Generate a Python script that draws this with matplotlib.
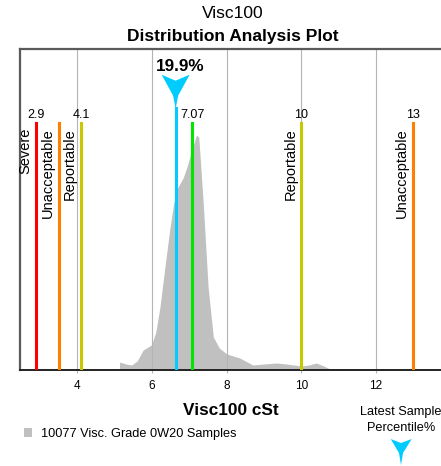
"""Distribution analysis plot for Visc100 with limit lines and latest-sample marker."""

import matplotlib

matplotlib.use("Agg")
import matplotlib.pyplot as plt  # noqa: E402
from matplotlib.patches import Polygon  # noqa: E402
from matplotlib.transforms import Affine2D, ScaledTranslation, blended_transform_factory  # noqa: E402

plt.rcParams["font.family"] = ["Liberation Sans", "DejaVu Sans"]

# sample distribution (relative density)
dist_x = [5.12, 5.13, 5.3, 5.45, 5.6, 5.76, 5.98, 6.1, 6.21, 6.35, 6.47, 6.57, 6.65,
          6.83, 6.95, 7.06, 7.19, 7.25, 7.31, 7.37, 7.5, 7.64, 7.8, 8.0, 8.35, 8.7,
          9.0, 9.33, 9.6, 10.0, 10.2, 10.4, 10.6, 10.77, 11.0, 12.0]
dist_y = [0, 8, 6, 5, 9, 20, 25, 38, 63, 105, 140, 165, 180,
          192, 205, 220, 235, 233, 200, 167, 83, 33, 22, 16, 12, 5,
          6, 7, 6, 4, 5, 7, 4, 1, 0.5, 0]

# limit lines
limit_values = [2.9, 3.5, 4.1, 10.0, 13.0]
limit_names = ["Severe", "Unacceptable", "Reportable", "Reportable", "Unacceptable"]
limit_labels = ["2.9", "", "4.1", "10", "13"]
limit_colors = ["#ff0000", "#ff8000", "#c8c800", "#c8c800", "#ff8000"]

mean_value = 7.07
mean_label = "7.07"
latest_value = 6.63
latest_pct = "19.9%"

sample_label = "10077 Visc. Grade 0W20 Samples"
x_ticks = [4, 6, 8, 10, 12]

W, H = 441, 466
fig = plt.figure(figsize=(W / 100, H / 100), dpi=100)
ax = fig.add_axes([20 / W, (H - 370) / H, (W - 20) / W, 321 / H])

ax.fill_between(dist_x, dist_y, color="#c0c0c0", lw=0, label=sample_label, zorder=1)
ax.set_xlim(2.459, 13.742)
ax.set_ylim(0, 321)
ax.set_yticks([])
ax.set_xticks(x_ticks)
ax.grid(axis="x", color="#b4b4b4", lw=0.8, zorder=0)
ax.tick_params(axis="x", length=2, color="#b4b4b4", labelsize=8.5, pad=5)
for side in ("top", "left"):
    ax.spines[side].set_color("#5a5a5a")
    ax.spines[side].set_linewidth(1.6)
ax.spines["bottom"].set_color("#222222")
ax.spines["bottom"].set_linewidth(1.4)
ax.spines["right"].set_visible(False)

line_top = 0.7695
for value, name, label, color in zip(limit_values, limit_names, limit_labels, limit_colors):
    ax.axvline(value, ymax=line_top, color=color, lw=2.2, zorder=3)
    if label:
        ax.annotate(label, (value, line_top), xycoords=("data", "axes fraction"),
                    xytext=(0, 2), textcoords="offset pixels",
                    ha="center", va="bottom", fontsize=9)
    ax.annotate(name, (value, 0.754), xycoords=("data", "axes fraction"),
                xytext=(-4, 0), textcoords="offset pixels",
                ha="right", va="top", rotation=90, fontsize=10.5)

ax.axvline(mean_value, ymax=line_top, color="#00e600", lw=2.2, zorder=3)
ax.annotate(mean_label, (mean_value, line_top), xycoords=("data", "axes fraction"),
            xytext=(0, 2), textcoords="offset pixels",
            ha="center", va="bottom", fontsize=9)

# latest sample line with dart marker
cyan = "#00ccff"
ax.axvline(latest_value, ymax=0.816, color=cyan, lw=2.2, zorder=3)
dart = [(-14, 34), (0, 28), (14, 34), (2.5, 13), (0, 0), (-2.5, 13)]
blend = blended_transform_factory(ax.transData, ax.transAxes)
ax.add_patch(Polygon(dart, closed=True, color=cyan, lw=0, zorder=4, clip_on=False,
                     transform=Affine2D() + ScaledTranslation(latest_value, 0.814, blend)))
ax.annotate(latest_pct, (latest_value, 0.944), xycoords=("data", "axes fraction"),
            xytext=(5, 0), textcoords="offset pixels",
            ha="center", va="center", fontsize=12.3, fontweight="bold")

ax.set_xlabel("Visc100 cSt", fontsize=12.4, fontweight="bold", labelpad=8)

fig.text(233 / W, 1 - 14 / H, "Visc100", ha="center", va="center", fontsize=12.5)
fig.text(233 / W, 1 - 37 / H, "Distribution Analysis Plot", ha="center", va="center",
         fontsize=12.5, fontweight="bold")

fig.legend(loc="center left", bbox_to_anchor=(12 / W, 1 - 434 / H), frameon=False,
           fontsize=9.2, handlelength=0.7, handleheight=0.7, handletextpad=0.7)

fig.text(401 / W, 1 - 412 / H, "Latest Sample", ha="center", va="center", fontsize=9.2)
fig.text(401 / W, 1 - 428 / H, "Percentile%", ha="center", va="center", fontsize=9.2)
low_dart = [(390.7, 439), (401, 443), (411.7, 439), (403, 453), (401, 465), (399, 453)]
fig.add_artist(Polygon([(x / 100, (H - y) / 100) for x, y in low_dart], closed=True,
                       color=cyan, lw=0, transform=fig.dpi_scale_trans))

fig.savefig("out.png", dpi=100)
